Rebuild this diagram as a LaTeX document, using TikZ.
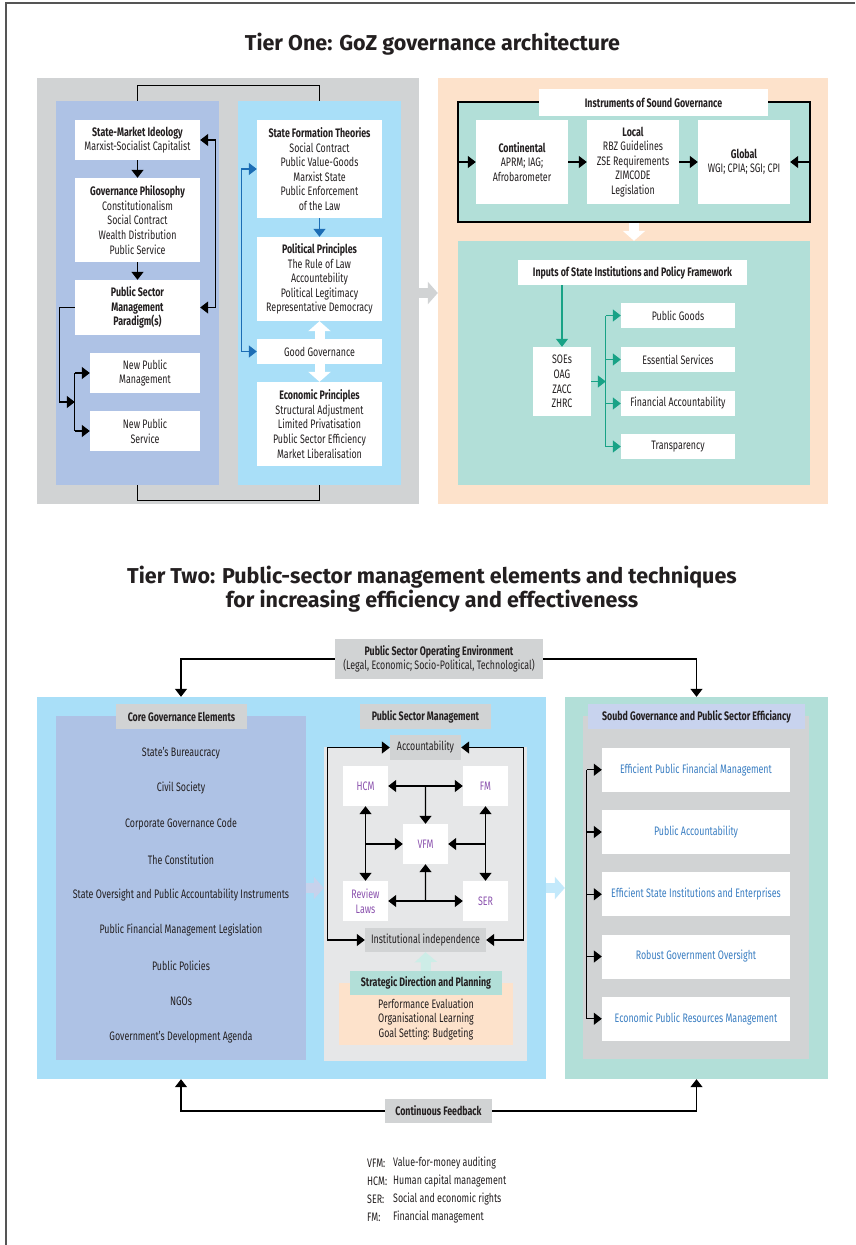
\documentclass[tikz,border=0pt]{standalone}
\usepackage{fontspec}
\setmainfont{Fira Sans}[FakeStretch=0.72]
\newfontfamily\headfont{Fira Sans}
\usetikzlibrary{arrows.meta,calc}

\definecolor{ink}{HTML}{231F20}
\definecolor{panelgray}{HTML}{D1D3D4}
\definecolor{peri}{HTML}{AEC2E5}
\definecolor{skyblue}{HTML}{A9DFF8}
\definecolor{peach}{HTML}{FDE2CB}
\definecolor{teal}{HTML}{B2DFD8}
\definecolor{psmgray}{HTML}{E6E7E8}
\definecolor{labelperi}{HTML}{C8D3EE}
\definecolor{arrowblue}{HTML}{1C6DB5}
\definecolor{arrowteal}{HTML}{18A286}
\definecolor{purpletext}{HTML}{8B52AE}
\definecolor{bluetext}{HTML}{3A7EC2}
\definecolor{fatperi}{HTML}{C7D2EC}
\definecolor{fatsky}{HTML}{C3E9FB}
\definecolor{fatteal}{HTML}{CDEDE7}
\definecolor{framegray}{HTML}{555555}

\newcommand{\bodyfont}{\fontsize{12.3}{14.6}\selectfont}
\newcommand{\titlestyle}{\headfont\bfseries\fontsize{21.5}{24}\selectfont}

\begin{document}
\begin{tikzpicture}[x=1pt,y=-1pt,
  >={Triangle[length=8pt,width=12pt]},
  every node/.style={text=ink, inner sep=0pt, align=center, font=\bodyfont},
  wh/.style 2 args={minimum width=#1pt, minimum height=#2pt},
  box/.style={fill=white},
  tag/.style={fill=panelgray},
  conn/.style={draw=black, line width=1.3pt},
  fat/.style={line width=10pt, -{Triangle[length=10pt,width=22pt]}},
  vfmtext/.style={text=purpletext},
  outtext/.style={text=bluetext}]

\useasboundingbox (0,0) rectangle (855,1245);
\fill[white] (0,0) rectangle (855,1245);
% page frame
\draw[framegray, line width=1.3pt] (6,1245) -- (6,3) -- (855,3);

% ---------------- Tier One ----------------
\node[font=\titlestyle] (t1title) at (432.5,44) {Tier One: GoZ governance architecture};

\node[fill=panelgray, wh={382}{426}] (t1gray) at (228,291) {};
\node[fill=peri, wh={163}{384}] (t1peri) at (137.5,293) {};
\node[fill=skyblue, wh={163}{384}] (t1blue) at (319.5,293) {};

\node[box, wh={125}{40}] (smi) at (137.5,140) {\textbf{State-Market Ideology}\\Marxist-Socialist Capitalist};
\node[box, wh={125}{84}] (gp) at (137.5,220) {\textbf{Governance Philosophy}\\Constitutionalism\\Social Contract\\Wealth Distribution\\Public Service};
\node[box, wh={125}{55}] (psm) at (137.5,307.5) {\textbf{Public Sector}\\\textbf{Management}\\\textbf{Paradigm(s)}};
\node[box, wh={110}{40}] (npm) at (145,373) {New Public\\Management};
\node[box, wh={110}{40}] (nps) at (145,431) {New Public\\Service};

\node[box, wh={125}{98}] (sft) at (319.5,169) {\textbf{State Formation Theories}\\Social Contract\\Public Value-Goods\\Marxist State\\Public Enforcement\\of the Law};
\node[box, wh={125}{84}] (pp) at (319.5,279) {\textbf{Political Principles}\\The Rule of Law\\Accountebility\\Political Legitimacy\\Representative Democracy};
\node[box, wh={125}{25}] (gg) at (319.5,351.5) {Good Governance};
\node[box, wh={125}{84}] (ep) at (319.5,424) {\textbf{Economic Principles}\\Structural Adjustment\\Limited Privatisation\\Public Sector Efficiency\\Market Liberalisation};

% links between the two columns
\draw[conn] (t1peri.north) -- ++(0,-15) -| (t1blue.north);
\draw[conn] (t1peri.south) -- ++(0,15) -| (t1blue.south);

\draw[conn,->] (smi) -- (gp);
\draw[conn,->] (gp) -- (psm);
\draw[conn,<->] (smi.east) -- ++(15,0) |- (psm.east);
\coordinate (b1) at ($(npm.west)+(-15,0)$);
\coordinate (b2) at ($(nps.west)+(-15,0)$);
\coordinate (bm) at ($(b1)!0.5!(b2)$);
\draw[conn] (b1) -- (b2);
\draw[conn,->] (b1) -- (npm.west);
\draw[conn,->] (b2) -- (nps.west);
\draw[conn,->] (psm.west) -- ++(-15,0) |- (bm);

\draw[conn,draw=arrowblue,->] (sft) -- (pp);
\draw[conn,draw=arrowblue,<->] (sft.west) -- ++(-15,0) |- (gg.west);
\draw[fat,white] (gg.north) -- (pp.south);
\draw[fat,white] (gg.south) -- (ep.north);

\node[fill=peach, wh={390}{426}] (t1peach) at (633,291) {};
\draw[fat,panelgray] (t1gray.east |- 0,293) -- (t1peach.west |- 0,293);

\node[fill=teal, draw=black, line width=1.5pt, wh={352}{120}] (instr) at (634,162) {};
\node[box, wh={229}{27}] (instrlab) at (653.5,102.5) {\textbf{Instruments of Sound Governance}};
\node[box, wh={92}{84}] (cont) at (522,162) {\textbf{Continental}\\APRM; IAG;\\Afrobarometer};
\node[box, wh={92}{84}] (local) at (633,162) {\textbf{Local}\\RBZ Guidelines\\ZSE Requirements\\ZIMCODE\\Legislation};
\node[box, wh={92}{84}] (global) at (744,162) {\textbf{Global}\\WGI; CPIA; SGI; CPI};
\draw[conn,->] (instr.west) -- (cont.west);
\draw[conn,->] (cont) -- (local);
\draw[conn,->] (local) -- (global);
\draw[conn,->] (instr.east) -- (global.east);

\node[fill=teal, wh={352}{244}] (t1low) at (634,363) {};
\draw[fat,white] (instr.south) -- (t1low.north);

\node[box, wh={229}{25}] (inputs) at (632.5,272.5) {\textbf{Inputs of State Institutions and Policy Framework}};
\node[box, wh={58}{69}] (soes) at (562,381.5) {SOEs\\OAG\\ZACC\\ZHRC};
\node[box, wh={114}{25}] (pgoods) at (678,315.5) {Public Goods};
\node[box, wh={114}{25}] (ess) at (678,359.5) {Essential Services};
\node[box, wh={114}{25}] (fin) at (678,403.5) {Financial Accountability};
\node[box, wh={114}{25}] (transp) at (678,446.5) {Transparency};

\draw[conn,draw=arrowteal,->] (soes.north |- inputs.south) -- (soes.north);
\coordinate (tb1) at ($(pgoods.west)+(-15,0)$);
\coordinate (tb4) at ($(transp.west)+(-15,0)$);
\draw[conn,draw=arrowteal] (tb1) -- (tb4);
\draw[conn,draw=arrowteal,->] (tb1) -- (pgoods.west);
\draw[conn,draw=arrowteal,->] (ess.west -| tb1) -- (ess.west);
\draw[conn,draw=arrowteal,->] (fin.west -| tb1) -- (fin.west);
\draw[conn,draw=arrowteal,->] (tb4) -- (transp.west);
\draw[conn,draw=arrowteal,->] (soes.east) -- (soes.east -| tb1);

% ---------------- Tier Two ----------------
\node[font=\titlestyle] (t2title) at (432,589) {Tier Two: Public-sector management elements and techniques\\for increasing efficiency and effectiveness};

\node[tag, wh={208}{40}] (env) at (439,659) {\textbf{Public Sector Operating Environment}\\(Legal, Economic; Socio-Political, Technological)};

\node[fill=skyblue, wh={509}{382}] (t2blue) at (291.5,888) {};
\node[fill=teal, wh={263}{382}] (t2teal) at (696.5,888) {};

\node[fill=peri, wh={250}{344}] (cge) at (181,888) {};
\node[tag, wh={131}{25}] (cgelab) at (181.5,716.5) {\textbf{Core Governance Elements}};
\foreach \t [count=\i] in {State’s Bureaucracy, Civil Society, Corporate Governance Code, The Constitution, State Oversight and Public Accountability Instruments, Public Financial Management Legislation, Public Policies, NGOs, Government’s Development Agenda}
  \node (ce\i) at (181,717.5+35.5*\i) {\t};

\node[fill=psmgray, wh={203}{314}] (psmp) at (425.5,904) {};
\node[tag, wh={131}{25}] (psmlab) at (425.5,716.5) {\textbf{Public Sector Management}};
\node[tag, wh={71}{25}] (acc) at (425.5,747.5) {Accountability};
\node[tag, wh={121}{24}] (indep) at (425.5,940) {Institutional independence};
\node[box, vfmtext, wh={45}{40}] (hcm) at (365.5,786) {HCM};
\node[box, vfmtext, wh={45}{40}] (fm) at (485.5,786) {FM};
\node[box, vfmtext, wh={45}{40}] (vfm) at (425.5,844) {VFM};
\node[box, vfmtext, wh={45}{40}] (rl) at (365.5,901) {Review\\Laws};
\node[box, vfmtext, wh={45}{40}] (ser) at (485.5,901) {SER};

\draw[conn,<->] (acc.west) -- ++(-62,0) |- (indep.west);
\draw[conn,<->] (acc.east) -- ++(62,0) |- (indep.east);
\draw[conn,<->] (hcm) -- (fm);
\draw[conn,->] ($(hcm.east)!0.5!(fm.west)$) -- (vfm.north);
\draw[conn,<->] (rl) -- (ser);
\draw[conn,->] ($(rl.east)!0.5!(ser.west)$) -- (vfm.south);
\draw[conn,<->] (hcm) -- (rl);
\draw[conn,->] (hcm.south |- vfm.west) -- (vfm.west);
\draw[conn,<->] (fm) -- (ser);
\draw[conn,->] (fm.south |- vfm.east) -- (vfm.east);

\node[fill=peach, wh={174}{62}] (plan) at (426,1014) {};
\node[fill=teal, wh={152}{24}] (sdp) at (426,983) {\textbf{Strategic Direction and Planning}};
\node (plantext) at (426,1019.5) {Performance Evaluation\\Organisational Learning\\Goal Setting: Budgeting};
\draw[fat,fatteal] (sdp.north) -- (indep.south);

\node[fill=panelgray, wh={226}{343}] (sgray) at (696,887.5) {};
\node[fill=labelperi, wh={217}{25}] (slab) at (696.5,716.5) {\textbf{Soubd Governance and Public Sector Efficiancy}};
\foreach \t [count=\i] in {Efficient Public Financial Management, Public Accountability, Efficient State Institutions and Enterprises, Robust Government Oversight, Economic Public Resources Management}
  \node[box, outtext, wh={188}{44}] (out\i) at (696,707.5+62.25*\i) {\t};
\coordinate (ob1) at ($(out1.west)+(-15,0)$);
\coordinate (ob5) at ($(out5.west)+(-15,0)$);
\draw[conn] (ob1) -- (ob5);
\foreach \i in {1,...,5}
  \draw[conn,->] (out\i.west -| ob1) -- (out\i.west);

\draw[fat,fatperi] (cge.east) -- (cge.east -| psmp.west);
\draw[fat,fatsky] (t2blue.east) -- (t2teal.west);

\draw[conn,->] (env.west) -| (cge.north |- t2blue.north);
\draw[conn,->] (env.east) -| (t2teal.north);

\node[tag, wh={107}{24}] (fb) at (438.5,1111) {\textbf{Continuous Feedback}};
\draw[conn,->] (fb.west) -| (cge.south |- t2blue.south);
\draw[conn,->] (fb.east) -| (t2teal.south);

% abbreviations
\foreach \a/\d [count=\i] in {VFM:/Value-for-money auditing, HCM:/Human capital management, SER:/Social and economic rights, FM:/Financial management} {
  \node[anchor=west] (abbr\i) at (367,1145+18*\i) {\a};
  \node[anchor=west] (desc\i) at (393,1145+18*\i) {\d};
}
\end{tikzpicture}
\end{document}
